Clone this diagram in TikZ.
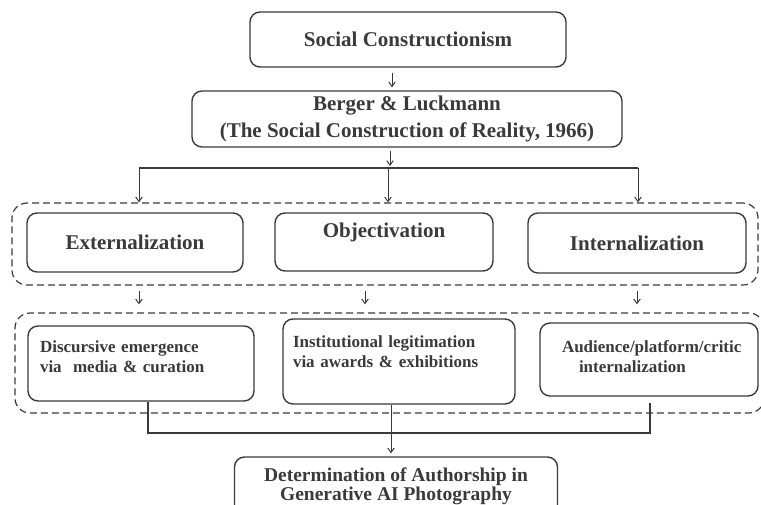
\documentclass[tikz,border=0pt]{standalone}
\usepackage{fontspec}
\setmainfont{Liberation Serif}
\usetikzlibrary{arrows.meta}
\definecolor{ink}{HTML}{3A3A3A}

\begin{document}
\begin{tikzpicture}
      [ x = 1pt, y = -1pt
      , box/.style =
        { draw = ink, line width = 1.4pt, rounded corners = 10pt, text = ink
        , inner sep = 0pt, align = center
        , font = \bfseries\fontsize{21}{27}\selectfont }
      , smallbox/.style =
        { box, align = left, text height = 12pt
        , font = \bfseries\fontsize{17}{20}\selectfont }
      , group/.style =
        { draw = ink, line width = 1.2pt, rounded corners = 15pt
        , dash pattern = on 7pt off 4pt }
      , link/.style =
        { draw = ink, line width = 1.1pt }
      , arr/.style =
        { link, line width = 1pt, -{Straight Barb[length = 4.5pt, width = 6.5pt]} }
      ]
      \useasboundingbox (0, 0) rectangle (761, 504);
      \node [group, minimum width = 746pt, minimum height = 82pt] (g1) at (385, 244) {};
      \node [group, minimum width = 749pt, minimum height = 100pt] (g2) at (389.5, 363) {};
      \node [box, minimum width = 316pt, minimum height = 55pt] (soc) at (408, 39.5) {Social Constructionism};
      \node [box, minimum width = 430pt, minimum height = 56pt] (berger) at (407, 119)
        {Berger \& Luckmann\\(The Social Construction of Reality, 1966)};
      \node [box, minimum width = 216pt, minimum height = 59pt] (ext) at (135, 242.5) {Externalization};
      \node [box, minimum width = 218pt, minimum height = 58pt, text depth = 23pt] (obj) at (384, 242) {Objectivation};
      \node [box, minimum width = 218pt, minimum height = 60pt] (int) at (637, 243) {Internalization};
      \node [smallbox, minimum height = 75pt, inner xsep = 12pt, text width = 202pt, text depth = 34pt] (disc) at (141, 363.5)
        {Discursive emergence\\via\ \ media \& curation};
      \node [smallbox, minimum height = 85pt, inner xsep = 10pt, text width = 212pt, text depth = 40pt] (inst) at (399, 361.5)
        {Institutional legitimation\\via awards \& exhibitions};
      \node [smallbox, minimum height = 73pt, inner xsep = 10pt, text width = 198pt, text depth = 26pt] (aud) at (649, 359.5)
        {\hspace*{12pt}Audience/platform/critic\\\hspace*{29pt}internalization};
      \node [box, font = \bfseries\fontsize{19.5}{19}\selectfont, minimum width = 323pt, minimum height = 62pt, text depth = 8.5pt] (det) at (396, 488)
        {Determination of Authorship in\\Generative AI Photography};
      \coordinate (c1) at (392, 0);
      \coordinate (split) at (390, 168);
      \coordinate (sl) at (139, 168);
      \coordinate (sm) at (388, 168);
      \coordinate (sr) at (638, 168);
      \coordinate (m1) at (139, 0);
      \coordinate (m2) at (365, 0);
      \coordinate (m3) at (637, 0);
      \coordinate (jl) at (148, 0);
      \coordinate (jm) at (391, 433);
      \coordinate (jr) at (650, 0);
      \draw [arr, shorten <= 5pt, shorten >= 3pt] (soc.south -| c1) to (berger.north -| c1);
      \draw [arr, shorten <= 3pt, shorten >= 2pt] (berger.south -| split) to (split);
      \draw [link] (sl) to (sr);
      \foreach \s in {sl, sm, sr}
        \draw [arr] (\s) to (g1.north -| \s);
      \foreach \m in {m1, m2, m3}
        \draw [arr, shorten <= 5pt, shorten >= 8pt] (g1.south -| \m) to (g2.north -| \m);
      \draw [link, shorten >= 6pt] (disc.south -| jl) |- (jm) -| (aud.south -| jr);
      \draw [arr, shorten >= 3pt] (inst.south -| jm) to (det.north -| jm);
    \end{tikzpicture}
\end{document}
